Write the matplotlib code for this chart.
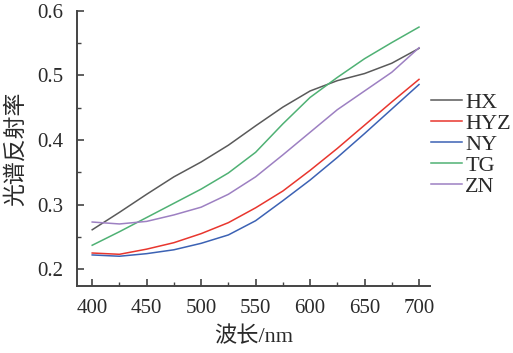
import matplotlib
matplotlib.use('Agg')
import matplotlib.pyplot as plt
from matplotlib.ticker import MultipleLocator

# comprimento de onda (nm)
comprimento = [400, 425, 450, 475, 500, 525, 550, 575, 600, 625, 650, 675, 700]

# reflectância espectral por classe
hx = [0.261, 0.288, 0.316, 0.343, 0.366, 0.392, 0.422, 0.451, 0.476, 0.492, 0.503, 0.519, 0.542]
hyz = [0.225, 0.223, 0.231, 0.241, 0.255, 0.272, 0.295, 0.321, 0.353, 0.387, 0.423, 0.459, 0.494]
ny = [0.222, 0.220, 0.224, 0.230, 0.240, 0.253, 0.275, 0.306, 0.338, 0.373, 0.410, 0.448, 0.486]
tg = [0.237, 0.258, 0.280, 0.302, 0.324, 0.349, 0.381, 0.425, 0.466, 0.497, 0.526, 0.551, 0.575]
zn = [0.273, 0.270, 0.274, 0.284, 0.296, 0.316, 0.343, 0.377, 0.412, 0.447, 0.476, 0.505, 0.543]

nomes = ['HX', 'HYZ', 'NY', 'TG', 'ZN']
cores = ['#5a5a5a', '#e8362e', '#3c62b4', '#4fb174', '#9d80c2']

plt.rcParams['font.family'] = ['Liberation Serif', 'Noto Sans CJK SC']

fig = plt.figure(figsize=(5.13, 3.53), dpi=100)
ax = fig.add_axes([0.150, 0.190, 0.688, 0.779])

for serie, nome, cor in zip([hx, hyz, ny, tg, zn], nomes, cores):
    ax.plot(comprimento, serie, color=cor, linewidth=1.1, label=nome)

ax.set_xlim(386, 710)
ax.set_ylim(0.174, 0.6)
ax.set_xticks([400, 450, 500, 550, 600, 650, 700])
ax.set_yticks([0.2, 0.3, 0.4, 0.5, 0.6])
ax.xaxis.set_minor_locator(MultipleLocator(25))
ax.yaxis.set_minor_locator(MultipleLocator(0.05))

for lado in ['top', 'right']:
    ax.spines[lado].set_visible(False)
for lado in ['left', 'bottom']:
    ax.spines[lado].set_color('#444444')
    ax.spines[lado].set_linewidth(1.4)

ax.tick_params(which='both', direction='in', color='#444444', labelsize=15, labelcolor='#2a2a2a')
ax.tick_params(which='major', length=5, width=1.2)
ax.tick_params(which='minor', length=3, width=1.0)
ax.tick_params(axis='x', pad=9.5)
ax.tick_params(axis='y', pad=10)

ax.set_xlabel('波长/nm', fontsize=16, color='#2a2a2a', labelpad=6,
              family=['Liberation Serif', 'Noto Sans CJK SC'])
ax.set_ylabel('光谱反射率', fontsize=16.5, color='#2a2a2a', labelpad=7,
              family=['Noto Sans CJK SC'], fontweight='light')

leg = ax.legend(loc='center left', bbox_to_anchor=(0.840, 0.591), bbox_transform=fig.transFigure,
                frameon=False, fontsize=16, handlelength=1.4, handletextpad=0.15,
                labelspacing=0.02, borderpad=0, borderaxespad=0)
for texto in leg.get_texts():
    texto.set_color('#2a2a2a')

fig.savefig('out.png', dpi=100)
